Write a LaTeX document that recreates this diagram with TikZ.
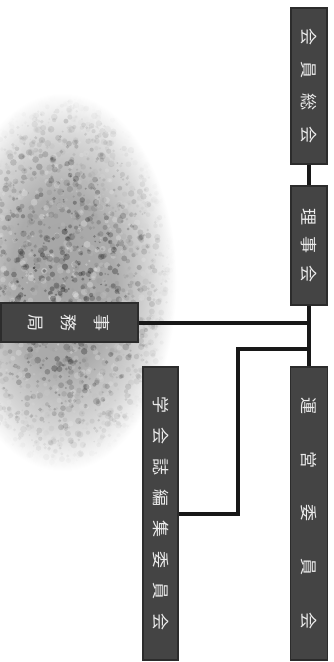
\documentclass[tikz,border=0pt]{standalone}
\usepackage{fontspec}
\usepackage{graphicx}
\newfontfamily\jp{Noto Sans CJK JP}
\definecolor{boxfill}{RGB}{68,68,68}
\definecolor{boxedge}{RGB}{44,44,44}
\definecolor{boxtext}{RGB}{236,236,236}
\definecolor{wire}{RGB}{24,24,24}
\newcommand{\vtext}[1]{\rotatebox[origin=c]{-90}{#1}}
\pgfdeclareradialshading{stoneglow}{\pgfpoint{0bp}{0bp}}{%
  color(0bp)=(black!36); color(10bp)=(black!33); color(17bp)=(black!16);
  color(22bp)=(white); color(50bp)=(white)}
\begin{document}
\begin{tikzpicture}[x=1pt,y=-1pt,
  orgbox/.style={draw=boxedge, line width=1.4pt, fill=boxfill, inner sep=0pt,
    text=boxtext, font=\jp\fontsize{17pt}{20pt}\selectfont},
  wiring/.style={draw=wire, line width=4pt, line join=miter}]
\useasboundingbox (0,0) rectangle (334,662);

% mottled grey stone texture on the left
\begin{scope}
  \clip (0,0) rectangle (334,662);
  \shade[shading=stoneglow] (62,282) ellipse (130 and 215);
  \pgfmathsetseed{42}
  \foreach \i in {1,...,2600}{
    \pgfmathsetmacro\ang{360*rnd}
    \pgfmathsetmacro\rr{sqrt(rnd)}
    \pgfmathsetmacro\px{62+112*\rr*cos(\ang)}
    \pgfmathsetmacro\py{282+185*\rr*sin(\ang)}
    \pgfmathsetmacro\op{0.35*(1-\rr*\rr)}
    \pgfmathsetmacro\sz{0.8+2.6*rnd}
    \pgfmathsetmacro\tone{int(100*rnd)}
    \fill[black!\tone!white, opacity=\op] (\px,\py) circle (\sz);
  }
\end{scope}

% boxes
\node[orgbox, minimum width=36pt, minimum height=156pt] (kaiin) at (309,86)
  {\vtext{会\hspace{15.6pt}員\hspace{15.6pt}総\hspace{15.6pt}会}};
\node[orgbox, minimum width=36pt, minimum height=119pt] (riji) at (309,245.5)
  {\vtext{理\hspace{12pt}事\hspace{12pt}会}};
\node[orgbox, minimum width=137pt, minimum height=39pt] (jimu) at (69.5,322.5)
  {\vtext{\fontsize{17pt}{33pt}\selectfont\begin{tabular}{@{}c@{}}事\\務\\局\end{tabular}}};
\node[orgbox, minimum width=37pt, minimum height=293pt] (unei) at (309,513.5)
  {\vtext{運\hspace{36.7pt}営\hspace{36.7pt}委\hspace{36.7pt}員\hspace{36.7pt}会}};
\node[orgbox, minimum width=35pt, minimum height=293pt] (gakkai) at (160.5,513.5)
  {\vtext{学\hspace{14pt}会\hspace{14pt}誌\hspace{14pt}編\hspace{14pt}集\hspace{14pt}委\hspace{14pt}員\hspace{14pt}会}};

% connectors
\coordinate (jA) at (riji.south |- jimu.east);
\coordinate (jB) at (309,349);
\coordinate (bendT) at (238,349);
\coordinate (bendB) at (238,513.5);
\draw[wiring] (kaiin.south) -- (riji.north);
\draw[wiring] (riji.south) -- (unei.north);
\draw[wiring] (jimu.east) -- (jA);
\draw[wiring] (gakkai.east) -- (bendB) -- (bendT) -- (jB);
\end{tikzpicture}
\end{document}
